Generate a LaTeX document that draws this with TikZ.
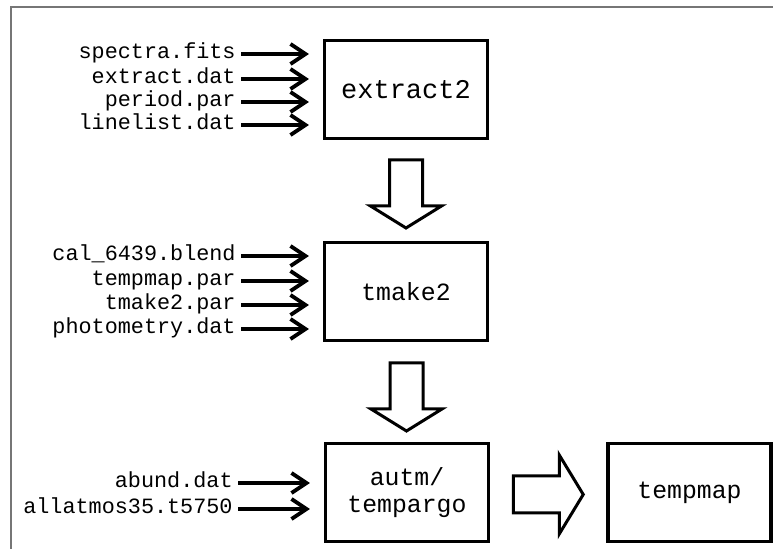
\documentclass[tikz,border=0pt]{standalone}
\usepackage{fontspec}
\setmonofont{Liberation Mono}
\usetikzlibrary{arrows.meta,calc}
\definecolor{framegray}{RGB}{118,118,118}
\begin{document}
\begin{tikzpicture}[x=.5pt, y=-.5pt, >={Straight Barb[length=7.5pt,width=10pt]},
	prog/.style={draw, line width=1.6pt, minimum width=81.5pt, minimum height=49pt, align=center, font=\ttfamily\fontsize{12.4}{13.5}\selectfont},
	infile/.style={anchor=east, inner xsep=2.5pt, inner ysep=0pt, text height=7pt, text depth=2pt, font=\ttfamily\fontsize{10.9}{13}\selectfont},
	feed/.style={->, line width=1.9pt, shorten >=7pt},
	bigarrow/.style={draw, line width=1.5pt, fill=white, line join=miter}]
	\useasboundingbox (0,0) rectangle (773,549);
	\draw[framegray, line width=1pt] (11,549) -- (11,7) -- (773,7);
	\path
		(406,89.5) node[prog, font=\ttfamily\fontsize{13.5}{15}\selectfont] (ex) {extract2}
		(406,291.5) node[prog] (tm) {tmake2}
		(407,492.5) node[prog] (au) {autm/\\tempargo}
		(689.5,492.5) node[prog] (tp) {tempmap}
	;
	\path
		(241,54) node[infile] (sp) {spectra.fits}
		(241,79) node[infile] (xd) {extract.dat}
		(241,102) node[infile] (pp) {period.par}
		(241,125) node[infile] (ll) {linelist.dat}
		(241,256) node[infile] (cb) {cal\_6439.blend}
		(241,281) node[infile] (tpp) {tempmap.par}
		(241,305) node[infile] (tkp) {tmake2.par}
		(241,329) node[infile] (ph) {photometry.dat}
		(238,483) node[infile] (ab) {abund.dat}
		(238,509) node[infile] (am) {allatmos35.t5750}
	;
	\foreach \f in {sp,xd,pp,ll}
		\draw[feed] (\f.east) -- (\f.east -| ex.west);
	\foreach \f in {cb,tpp,tkp,ph}
		\draw[feed] (\f.east) -- (\f.east -| tm.west);
	\foreach \f in {ab,am}
		\draw[feed] (\f.east) -- (\f.east -| au.west);
	% hollow block arrows between the programs
	\coordinate (d1) at ($(ex.south)!.5!(tm.north)$);
	\coordinate (d2) at ($(tm.south)!.5!(au.north)$);
	\coordinate (r1) at ($(au.east)!.5!(tp.west)$);
	\draw[bigarrow] ([shift={(-16.5,-30.5)}]d1) -- ++(0,46) -- ++(-19,0) -- ++(35.5,22) -- ++(35.5,-22) -- ++(-19,0) -- ++(0,-46) -- cycle;
	\draw[bigarrow] ([shift={(-16.5,-29)}]d2) -- ++(0,46) -- ++(-19,0) -- ++(35.5,22) -- ++(35.5,-22) -- ++(-19,0) -- ++(0,-46) -- cycle;
	\draw[bigarrow] ([shift={(-35,-16.5)}]r1) -- ++(46,0) -- ++(0,-21) -- ++(24,39.5) -- ++(-24,39.5) -- ++(0,-21) -- ++(-46,0) -- cycle;
\end{tikzpicture}
\end{document}
